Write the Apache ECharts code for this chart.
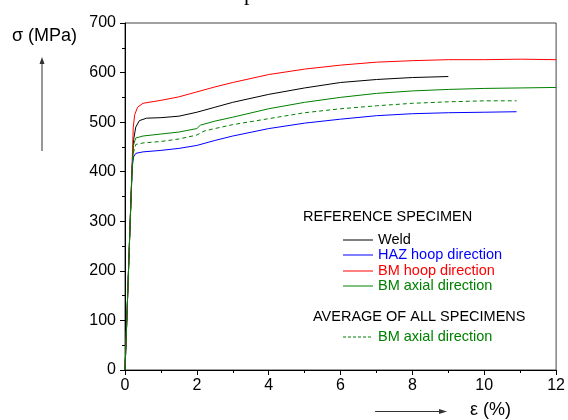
<!DOCTYPE html>
<html>
<head>
<meta charset="utf-8">
<script src="https://cdn.jsdelivr.net/npm/echarts@6/dist/echarts.min.js"></script>
<style>
  html, body { margin: 0; padding: 0; background: #fff; }
  #chart { width: 568px; height: 420px; }
</style>
</head>
<body>
<div id="chart"></div>
<script>
// strain (%) / stress (MPa)
var weld = [[0,0],[0.05,100],[0.14,290],[0.2,410],[0.24,465],[0.3,490],[0.4,503],[0.6,508],[1,509],[1.5,512],[2,520],[2.5,530],[3,540],[4,556],[5,569],[6,580],[7,586],[8,590],[9,592]];
var hazHoop = [[0,0],[0.05,100],[0.14,290],[0.2,410],[0.24,430],[0.3,437],[0.5,440],[1,443],[1.5,447],[2,453],[2.5,463],[3,472],[4,487],[5,498],[6,506],[7,513],[8,517],[9,519],[10,520],[10.9,521]];
var bmHoop = [[0,0],[0.05,100],[0.14,290],[0.2,420],[0.23,490],[0.27,515],[0.35,530],[0.5,538],[1,544],[1.5,551],[2,561],[2.5,571],[3,580],[4,596],[5,607],[6,615],[7,621],[8,624],[9,626],[10,626],[11,627],[12,626]];
var bmAxial = [[0,0],[0.05,100],[0.14,290],[0.2,410],[0.24,455],[0.3,468],[0.5,472],[1,476],[1.5,480],[2,487],[2.1,494],[2.5,502],[3,510],[4,527],[5,540],[6,550],[7,558],[8,563],[9,566],[10,568],[11,569],[12,570]];
var bmAxialAvg = [[0,0],[0.05,100],[0.14,290],[0.2,405],[0.24,440],[0.3,455],[0.5,458],[1,461],[1.5,466],[2,474],[2.2,482],[2.5,487],[3,495],[4,507],[5,519],[6,527],[7,533],[8,538],[9,541],[10,543],[10.9,543]];

var font = 'Arial, "Liberation Sans", sans-serif';

var chart = echarts.init(document.getElementById('chart'));

function curve(name, data, color, dashed) {
    return {
        name: name,
        type: 'line',
        data: data,
        showSymbol: false,
        animation: false,
        lineStyle: { color: color, width: 1, type: dashed ? [4, 3] : 'solid' },
        z: 3
    };
}

function legendRow(y, color, text, dashed) {
    return [
        { type: 'line', shape: { x1: 343, y1: y, x2: 373, y2: y },
          style: { stroke: color, lineWidth: 1, lineDash: dashed ? [3, 2] : null } },
        { type: 'text', x: 378, y: y, style: { text: text, fill: color, font: '14.5px ' + font, textVerticalAlign: 'middle' } }
    ];
}

var option = {
    backgroundColor: '#fff',
    grid: { left: 125, right: 9, top: 23, bottom: 50, show: true, borderColor: '#444', borderWidth: 1 },
    xAxis: {
        type: 'value', min: 0, max: 12, interval: 2,
        axisLine: { lineStyle: { color: '#000' } },
        axisTick: { length: 5, lineStyle: { color: '#000' } },
        minorTick: { show: true, splitNumber: 2, length: 3, lineStyle: { color: '#000' } },
        splitLine: { show: false },
        axisLabel: { color: '#000', fontSize: 16, fontFamily: font, margin: 8 }
    },
    yAxis: {
        type: 'value', min: 0, max: 700, interval: 100,
        axisLine: { show: true, lineStyle: { color: '#000' } },
        axisTick: { show: true, length: 5, lineStyle: { color: '#000' } },
        minorTick: { show: true, splitNumber: 2, length: 3, lineStyle: { color: '#000' } },
        splitLine: { show: false },
        axisLabel: { color: '#000', fontSize: 16, fontFamily: font, margin: 9 }
    },
    series: [
        curve('Weld', weld, '#000000'),
        curve('HAZ hoop direction', hazHoop, '#0000ff'),
        curve('BM hoop direction', bmHoop, '#ff0000'),
        curve('BM axial direction', bmAxial, '#008000'),
        curve('BM axial direction (average)', bmAxialAvg, '#008000', true)
    ],
    graphic: [
        // cropped title glyph at the very top
        { type: 'text', x: 244, y: -17, style: { text: 'p', fill: '#000', font: '22px "Liberation Serif", serif' } },
        { type: 'text', x: 12, y: 36, style: { text: 'σ (MPa)', fill: '#000', font: '18px ' + font, textVerticalAlign: 'middle' } },
        { type: 'line', shape: { x1: 42, y1: 151, x2: 42, y2: 60 }, style: { stroke: '#333', lineWidth: 1 } },
        { type: 'polygon', shape: { points: [[42, 57], [39.5, 64], [44.5, 64]] }, style: { fill: '#333' } },
        { type: 'line', shape: { x1: 375, y1: 411.5, x2: 442, y2: 411.5 }, style: { stroke: '#333', lineWidth: 1 } },
        { type: 'polygon', shape: { points: [[447, 411.5], [439, 409], [439, 414]] }, style: { fill: '#333' } },
        { type: 'text', x: 470, y: 410, style: { text: 'ε (%)', fill: '#000', font: '18px ' + font, textVerticalAlign: 'middle' } },
        { type: 'text', x: 303, y: 217, style: { text: 'REFERENCE SPECIMEN', fill: '#000', font: '14.5px ' + font, textVerticalAlign: 'middle' } },
        { type: 'text', x: 313, y: 317, style: { text: 'AVERAGE OF ALL SPECIMENS', fill: '#000', font: '14.5px ' + font, textVerticalAlign: 'middle' } }
    ]
        .concat(legendRow(240, '#000000', 'Weld'))
        .concat(legendRow(255, '#0000ff', 'HAZ hoop direction'))
        .concat(legendRow(271, '#ff0000', 'BM hoop direction'))
        .concat(legendRow(286, '#008000', 'BM axial direction'))
        .concat(legendRow(337, '#008000', 'BM axial direction', true))
};

chart.setOption(option);
</script>
</body>
</html>
